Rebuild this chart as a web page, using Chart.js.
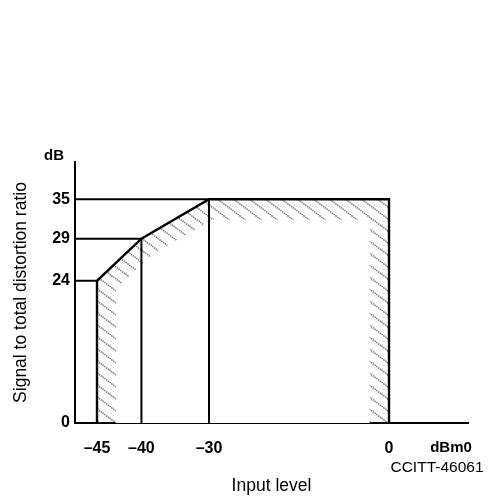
<!DOCTYPE html>
<html>
<head>
<meta charset="utf-8">
<script src="https://cdn.jsdelivr.net/npm/chart.js@4/dist/chart.umd.min.js"></script>
<style>
  html,body{margin:0;padding:0;background:#fff;}
  canvas{display:block;}
</style>
</head>
<body>
<canvas id="chart" width="490" height="497"></canvas>
<script>
// mask limit: input level (dBm0) -> signal to total distortion ratio (dB)
const inputLevel = [-45, -40, -30, 0];
const sdrLimit = [24, 29, 35, 35];
const xTicks = [-45, -40, -30, 0];
const yTicks = [0, 24, 29, 35];
// inner edge of the hatched strip
const hatchInnerX = [-42.9, -42.9, -38.3, -29.5, -3.2, -3.2];
const hatchInnerY = [0, 22.6, 27.2, 31.9, 31.9, 0];

const FONT = "'Liberation Sans', Arial, Helvetica, sans-serif";

// the drawing is not to scale: piecewise linear axis
class SchematicScale extends Chart.LinearScale {
    _frac(v){
        const b = this.options.breaks;
        if(v <= b[0][0]) return b[0][1];
        for(let i = 1; i < b.length; i++){
            if(v <= b[i][0]){
                const [v0, f0] = b[i-1], [v1, f1] = b[i];
                return f0 + (v - v0) / (v1 - v0) * (f1 - f0);
            }
        }
        return b[b.length-1][1];
    }
    getPixelForValue(v){
        return this.getPixelForDecimal(this._frac(v));
    }
    getValueForPixel(p){
        const d = this.getDecimalForPixel(p);
        const b = this.options.breaks;
        for(let i = 1; i < b.length; i++){
            if(d <= b[i][1]){
                const [v0, f0] = b[i-1], [v1, f1] = b[i];
                return v0 + (d - f0) / (f1 - f0) * (v1 - v0);
            }
        }
        return b[b.length-1][0];
    }
}
SchematicScale.id = 'schematic';
SchematicScale.defaults = Chart.LinearScale.defaults;
Chart.register(SchematicScale);

const makeHatch = () => {
    const tile = document.createElement('canvas');
    tile.width = 16; tile.height = 12;
    const t = tile.getContext('2d');
    t.strokeStyle = '#666';
    t.lineWidth = 1.5;
    t.setLineDash([1.3, 0.9]);
    [-16, 0, 16].forEach(dx => {
        t.beginPath();
        t.moveTo(dx - 4, -3);
        t.lineTo(dx + 20, 15);
        t.stroke();
    });
    return t.createPattern(tile, 'repeat');
};

const xMin = -47.5;
const pts = (xs, ys) => xs.map((x, i) => ({x: x, y: ys[i]}));
const outline = [{x: inputLevel[0], y: 0}].concat(pts(inputLevel, sdrLimit), [{x: inputLevel[inputLevel.length-1], y: 0}]);

const line = (data, order, extra) => Object.assign({
    data: data, order: order, borderColor: '#000', borderWidth: 2,
    pointRadius: 0, fill: false, tension: 0
}, extra || {});

const datasets = [
    line(outline, 1, {borderWidth: 2.4}),
    // guide lines from the axes to the corners
    line([{x: xMin, y: sdrLimit[0]}, {x: inputLevel[0], y: sdrLimit[0]}], 2),
    line([{x: xMin, y: sdrLimit[1]}, {x: inputLevel[1], y: sdrLimit[1]}], 2),
    line([{x: xMin, y: sdrLimit[2]}, {x: inputLevel[2], y: sdrLimit[2]}], 2),
    line([{x: inputLevel[1], y: 0}, {x: inputLevel[1], y: sdrLimit[1]}], 2),
    line([{x: inputLevel[2], y: 0}, {x: inputLevel[2], y: sdrLimit[2]}], 2),
    // hatched strip = hatched mask minus white inner area
    line(pts(hatchInnerX, hatchInnerY), 8, {borderWidth: 0, borderColor: 'rgba(0,0,0,0)', fill: 'origin', backgroundColor: '#fff'}),
    line(outline, 9, {borderWidth: 0, borderColor: 'rgba(0,0,0,0)', fill: 'origin', backgroundColor: makeHatch()})
];

const textPlugin = {
    id: 'extraText',
    beforeDraw: (chart) => {
        const c = chart.ctx;
        c.save();
        c.fillStyle = '#fff';
        c.fillRect(0, 0, chart.width, chart.height);
        c.restore();
    },
    afterDraw: (chart) => {
        const c = chart.ctx;
        c.save();
        c.fillStyle = '#000';
        c.textAlign = 'center';
        c.textBaseline = 'middle';
        c.font = 'bold 15px ' + FONT;
        c.fillText('dB', 54, 156);
        c.fillText('dBm0', 451, 448);
        c.font = '15.5px ' + FONT;
        c.fillText('CCITT-46061', 437, 468);
        c.restore();
    }
};

const fmt = v => v < 0 ? '\u2013' + (-v) : String(v);

new Chart(document.getElementById('chart'), {
    type: 'line',
    data: {datasets: datasets},
    options: {
        responsive: false,
        animation: false,
        devicePixelRatio: 1,
        layout: {padding: {top: 162, right: 22, left: 0, bottom: 0}},
        plugins: {legend: {display: false}, tooltip: {enabled: false}},
        scales: {
            x: {
                type: 'schematic',
                min: xMin, max: 13,
                breaks: [[-47.5, 0], [-45, 0.056], [-40, 0.169], [-30, 0.341], [0, 0.799], [13, 1]],
                afterBuildTicks: s => { s.ticks = xTicks.map(v => ({value: v})); },
                afterFit: s => { s.height = 74; },
                grid: {display: false, drawTicks: false},
                border: {display: true, color: '#000', width: 2},
                ticks: {color: '#000', padding: 16, autoSkip: false, maxRotation: 0,
                    font: {family: FONT, size: 16, weight: 'bold'}, callback: fmt},
                title: {display: true, text: 'Input level', color: '#000',
                    font: {family: FONT, size: 17.5}, padding: {top: 0, bottom: 0}}
            },
            y: {
                type: 'schematic',
                min: 0, max: 41,
                breaks: [[0, 0], [24, 0.545], [29, 0.706], [35, 0.857], [41, 1]],
                afterBuildTicks: s => { s.ticks = yTicks.map(v => ({value: v})); },
                afterFit: s => { s.width = 75; },
                grid: {display: false, drawTicks: false},
                border: {display: true, color: '#000', width: 2},
                ticks: {color: '#000', padding: 5, autoSkip: false,
                    font: {family: FONT, size: 16, weight: 'bold'}, callback: fmt},
                title: {display: true, text: 'Signal to total distortion ratio', color: '#000',
                    font: {family: FONT, size: 17.5}, padding: {top: 11, bottom: 0}}
            }
        }
    },
    plugins: [textPlugin]
});
</script>
</body>
</html>
